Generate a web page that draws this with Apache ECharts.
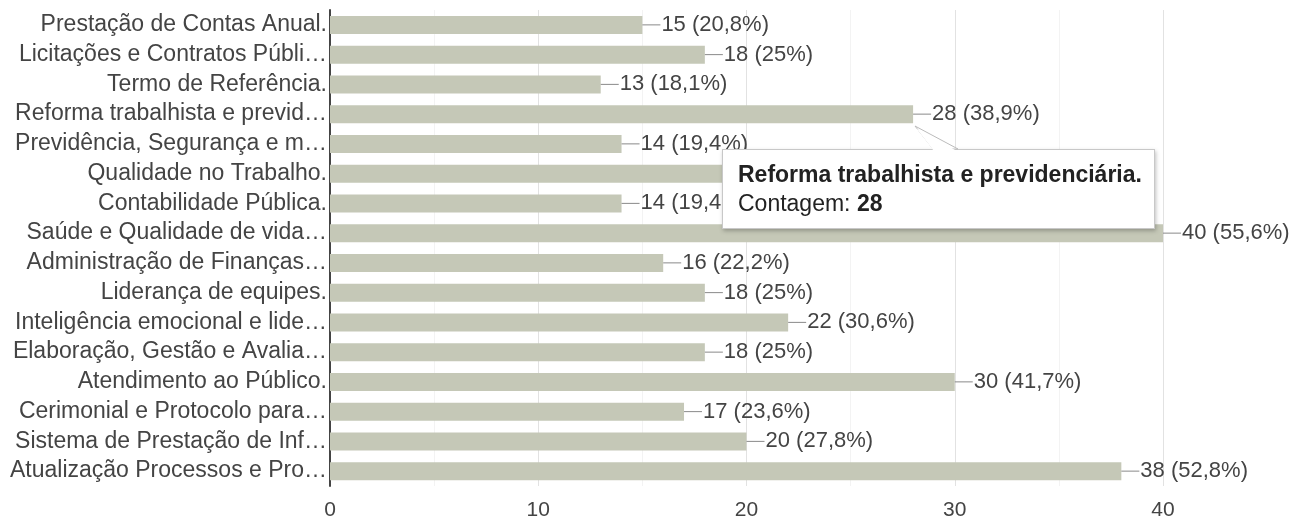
<!DOCTYPE html>
<html>
<head>
<meta charset="utf-8">
<script src="https://cdn.jsdelivr.net/npm/echarts@6/dist/echarts.min.js"></script>
<style>
html,body{margin:0;padding:0;background:#fff;}
#c{width:1295px;height:521px;}
</style>
</head>
<body>
<div id="c"></div>
<script>
const categories = [
  'Prestação de Contas Anual.',
  'Licitações e Contratos Públi…',
  'Termo de Referência.',
  'Reforma trabalhista e previd…',
  'Previdência, Segurança e m…',
  'Qualidade no Trabalho.',
  'Contabilidade Pública.',
  'Saúde e Qualidade de vida…',
  'Administração de Finanças…',
  'Liderança de equipes.',
  'Inteligência emocional e lide…',
  'Elaboração, Gestão e Avalia…',
  'Atendimento ao Público.',
  'Cerimonial e Protocolo para…',
  'Sistema de Prestação de Inf…',
  'Atualização Processos e Pro…'
];
const counts = [15, 18, 13, 28, 14, 20, 14, 40, 16, 18, 22, 18, 30, 17, 20, 38];
const percents = ['20,8', '25', '18,1', '38,9', '19,4', '27,8', '19,4', '55,6', '22,2', '25', '30,6', '25', '41,7', '23,6', '27,8', '52,8'];
const xTicks = [0, 10, 20, 30, 40];
const tooltipIndex = 3;
const tooltipTitle = 'Reforma trabalhista e previdenciária.';
const tooltipLabel = 'Contagem';

const FONT = '"Liberation Sans", Arial, sans-serif';
const chart = echarts.init(document.getElementById('c'), null, {renderer: 'canvas'});

const option = {
  animation: false,
  grid: {left: 330, right: 132, top: 10, bottom: 34, containLabel: false},
  tooltip: {
    trigger: 'item',
    triggerOn: 'none',
    alwaysShowContent: true,
    backgroundColor: '#fff',
    borderColor: '#c8c8c8',
    borderWidth: 1,
    borderRadius: 0,
    padding: [10, 12, 10, 15],
    extraCssText: 'box-shadow: 1px 2px 4px rgba(0,0,0,0.25); overflow: visible; min-width: 400px;',
    position: function () {
      const p = chart.convertToPixel({gridIndex: 0}, [counts[tooltipIndex], tooltipIndex]);
      return [p[0] - 191, p[1] + 35];
    },
    formatter: function () {
      return '<div style="position:relative;font-family:' + FONT.replace(/"/g, "'") + ';font-size:23px;color:#222;line-height:29px;">' +
        '<svg style="position:absolute;left:177px;top:-34px;overflow:visible" width="50" height="26">' +
        '<polygon points="0,0 18,23 43,23" fill="#fff" stroke="#bbb" stroke-width="1"/>' +
        '<polygon points="1.5,2.5 18.5,24.5 41,24.5" fill="#fff" stroke="none"/></svg>' +
        '<div style="font-weight:bold;">' + tooltipTitle + '</div>' +
        '<div>' + tooltipLabel + ': <b>' + counts[tooltipIndex] + '</b></div></div>';
    }
  },
  xAxis: {
    type: 'value',
    min: 0,
    max: 40,
    interval: 10,
    axisLine: {show: false},
    axisTick: {show: false},
    axisLabel: {
      color: '#444', fontSize: 21, fontFamily: FONT, margin: 14,
      formatter: function (v) { return xTicks.indexOf(v) >= 0 ? String(v) : ''; }
    },
    splitLine: {show: true, lineStyle: {color: '#e2e2e2', width: 1}},
    minorTick: {show: false, splitNumber: 2},
    minorSplitLine: {show: true, lineStyle: {color: '#f3f3f3', width: 1}}
  },
  yAxis: {
    type: 'category',
    inverse: true,
    data: categories,
    axisLine: {show: true, lineStyle: {color: '#444', width: 2}},
    axisTick: {show: false},
    axisLabel: {color: '#444', fontSize: 23, fontFamily: FONT, margin: 3, interval: 0, hideOverlap: false}
  },
  series: [{
    type: 'bar',
    data: counts,
    barWidth: 18,
    itemStyle: {color: '#c5c8b7'},
    label: {
      show: true,
      position: 'right',
      distance: 0,
      fontFamily: FONT,
      formatter: function (p) {
        return '{d|}{t|' + p.value + ' (' + percents[p.dataIndex] + '%)}';
      },
      rich: {
        d: {width: 18, height: 1, backgroundColor: '#888'},
        t: {color: '#444', fontSize: 22, fontFamily: FONT, padding: [0, 0, 0, 1]}
      }
    }
  }]
};
chart.setOption(option);
chart.dispatchAction({type: 'showTip', seriesIndex: 0, dataIndex: tooltipIndex});
</script>
</body>
</html>
